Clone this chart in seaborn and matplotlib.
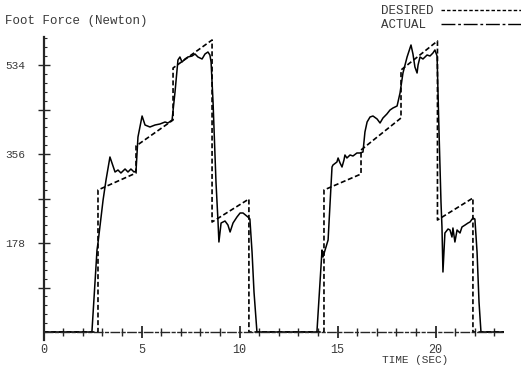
import numpy as np
import pandas as pd
import matplotlib
matplotlib.use("Agg")
import matplotlib.pyplot as plt
from matplotlib.lines import Line2D
from matplotlib.ticker import FixedLocator, FixedFormatter, MultipleLocator
import seaborn as sns

# ---------------- data ----------------
time_desired = [0.00, 2.78, 2.78, 4.72, 4.72, 6.61, 6.61, 8.60, 8.60, 10.48, 10.48,
                14.31, 14.31, 16.20, 16.20, 18.24, 18.24, 20.10, 20.10, 21.91, 21.91, 23.50]
force_desired = [0, 0, 284, 318, 372, 424, 528, 584, 220, 266, 0,
                 0, 284, 316, 364, 428, 524, 582, 224, 268, 0, 0]

time_actual = [0.00, 2.47, 2.73, 2.78, 3.04, 3.19, 3.39, 3.65, 3.80, 3.95, 4.16, 4.31, 4.46,
               4.62, 4.72, 4.82, 5.03, 5.18, 5.43, 5.69, 5.94, 6.20, 6.35, 6.56, 6.71,
               6.86, 6.96, 7.07, 7.22, 7.37, 7.58, 7.73, 7.88, 8.09, 8.24, 8.39, 8.49,
               8.55, 8.65, 8.80, 8.90, 8.95, 9.06, 9.26, 9.41, 9.52, 9.67, 9.87, 10.03,
               10.18, 10.43, 10.53, 10.64, 10.74, 10.89,
               13.95, 14.21, 14.26, 14.52, 14.72, 14.77, 14.97, 15.03, 15.13, 15.23,
               15.33, 15.38, 15.48, 15.64, 15.79, 15.99, 16.15, 16.30, 16.40, 16.51,
               16.66, 16.81, 17.02, 17.17, 17.32, 17.52, 17.68, 17.83, 18.04, 18.19,
               18.34, 18.55, 18.75, 18.85, 18.95, 19.06, 19.11, 19.21, 19.36, 19.57,
               19.72, 19.87, 19.97, 20.08, 20.18, 20.28, 20.33, 20.38, 20.48, 20.64,
               20.74, 20.84, 20.89, 20.99, 21.10, 21.25, 21.35, 21.51, 21.66, 21.76,
               21.91, 22.01, 22.12, 22.22, 22.32, 23.50]
force_actual = [0, 0, 164, 178, 264, 304, 350, 320, 324, 318, 326, 320, 326,
                320, 322, 390, 432, 414, 410, 414, 416, 420, 418, 424, 480,
                544, 550, 540, 546, 550, 552, 556, 550, 546, 556, 560, 554,
                540, 460, 300, 224, 180, 218, 222, 214, 200, 218, 230, 238,
                238, 230, 226, 160, 80, 0,
                0, 164, 150, 184, 330, 334, 340, 348, 338, 330,
                344, 354, 348, 354, 352, 358, 358, 360, 400, 420,
                430, 432, 426, 418, 428, 436, 444, 448, 452, 478,
                518, 550, 574, 556, 530, 518, 534, 550, 546, 554,
                552, 558, 564, 552, 400, 260, 210, 120, 198, 206,
                204, 190, 208, 180, 204, 198, 210, 214, 218, 220,
                228, 226, 160, 60, 0, 0]

x_major = [0, 5, 10, 15, 20]
y_major = [89, 178, 267, 356, 445, 534]
y_labels = ["", "178", "", "356", "", "534"]

legend_labels = ["DESIRED", "ACTUAL "]
y_title = "Foot Force (Newton)"
x_title = "TIME (SEC)"

# ---------------- style ----------------
sns.set_style("ticks")
plt.rcParams["font.family"] = ["Liberation Mono", "DejaVu Sans Mono"]
text_color = "#3a3a3a"

fig = plt.figure(figsize=(5.21, 3.69), dpi=100)
ax = fig.add_axes([43.5 / 521, 29 / 369, 460.6 / 521, 303 / 369])

df_d = pd.DataFrame({"t": time_desired, "f": force_desired})
df_a = pd.DataFrame({"t": time_actual, "f": force_actual})

sns.lineplot(data=df_d, x="t", y="f", estimator=None, sort=False, ax=ax,
             color="black", linewidth=1.2, linestyle=(0, (3, 1.6)))
sns.lineplot(data=df_a, x="t", y="f", estimator=None, sort=False, ax=ax,
             color="black", linewidth=1.1)

ax.set_xlim(0, 23.5)
ax.set_ylim(-16, 590)

for s in ["top", "right"]:
    ax.spines[s].set_visible(False)
ax.spines["left"].set_linewidth(1.6)
ax.spines["bottom"].set_position(("data", 0))
ax.spines["bottom"].set_linewidth(1.0)
ax.spines["bottom"].set_linestyle((0, (6, 2, 2, 2)))

ax.xaxis.set_major_locator(FixedLocator(x_major))
ax.xaxis.set_minor_locator(MultipleLocator(1))
ax.yaxis.set_major_locator(FixedLocator(y_major))
ax.yaxis.set_major_formatter(FixedFormatter(y_labels))
ax.yaxis.set_minor_locator(MultipleLocator(17.8))

ax.tick_params(axis="x", which="major", direction="inout", length=9, width=1.3,
               pad=4, labelsize=8.5, labelcolor=text_color)
ax.tick_params(axis="x", which="minor", direction="inout", length=5.5, width=1.0)
ax.tick_params(axis="y", which="major", direction="inout", length=8, width=1.0,
               pad=9, labelsize=8, labelcolor=text_color)
ax.tick_params(axis="y", which="minor", direction="in", length=2.5, width=0.8)

ax.set_xlabel(x_title, fontsize=8, color=text_color, ha="center", va="top")
ax.xaxis.set_label_coords(0.807, -0.05)
ax.set_ylabel(y_title, fontsize=9, color=text_color, rotation=0,
              ha="left", va="center")
ax.yaxis.set_label_coords(-0.083, 1.054)

handles = [Line2D([], [], color="black", linewidth=1.0, linestyle=(0, (2.5, 1.5))),
           Line2D([], [], color="black", linewidth=1.0, linestyle=(0, (10, 2, 2, 2)))]
leg = fig.legend(handles, legend_labels, loc="upper right",
                 bbox_to_anchor=(1.0, 1 - 5 / 369), bbox_transform=fig.transFigure,
                 frameon=False, markerfirst=False, fontsize=9,
                 handlelength=6.4, handletextpad=0.6, labelspacing=0.2,
                 borderpad=0, borderaxespad=0)
for t in leg.get_texts():
    t.set_color(text_color)

fig.savefig("out.png", dpi=100)
